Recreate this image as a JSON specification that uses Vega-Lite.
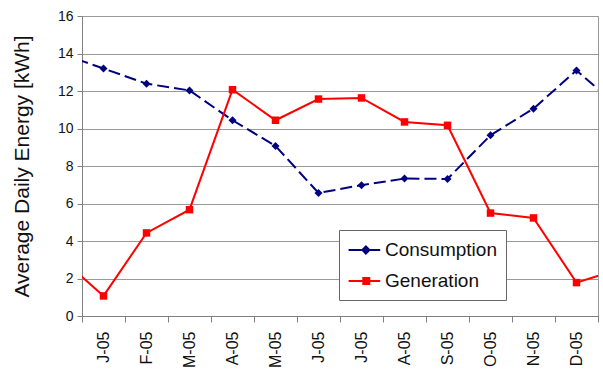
{
  "$schema": "https://vega.github.io/schema/vega-lite/v6.json",
  "width": 516,
  "height": 300,
  "autosize": "none",
  "padding": {"left": 82, "top": 16, "right": 5, "bottom": 57},
  "background": "white",
  "config": {
    "font": "Liberation Sans",
    "view": {"stroke": "#999999", "strokeWidth": 1}
  },
  "data": {
    "values": [
      {"m": 0, "series": "Consumption", "v": 14.0},
      {"m": 1, "series": "Consumption", "v": 13.2},
      {"m": 2, "series": "Consumption", "v": 12.39},
      {"m": 3, "series": "Consumption", "v": 12.03},
      {"m": 4, "series": "Consumption", "v": 10.44},
      {"m": 5, "series": "Consumption", "v": 9.07},
      {"m": 6, "series": "Consumption", "v": 6.56},
      {"m": 7, "series": "Consumption", "v": 6.98},
      {"m": 8, "series": "Consumption", "v": 7.33},
      {"m": 9, "series": "Consumption", "v": 7.31},
      {"m": 10, "series": "Consumption", "v": 9.64},
      {"m": 11, "series": "Consumption", "v": 11.06},
      {"m": 12, "series": "Consumption", "v": 13.1},
      {"m": 13, "series": "Consumption", "v": 11.1},
      {"m": 0, "series": "Generation", "v": 3.1},
      {"m": 1, "series": "Generation", "v": 1.07},
      {"m": 2, "series": "Generation", "v": 4.43},
      {"m": 3, "series": "Generation", "v": 5.67},
      {"m": 4, "series": "Generation", "v": 12.07},
      {"m": 5, "series": "Generation", "v": 10.44},
      {"m": 6, "series": "Generation", "v": 11.57},
      {"m": 7, "series": "Generation", "v": 11.63},
      {"m": 8, "series": "Generation", "v": 10.35},
      {"m": 9, "series": "Generation", "v": 10.17},
      {"m": 10, "series": "Generation", "v": 5.49},
      {"m": 11, "series": "Generation", "v": 5.23},
      {"m": 12, "series": "Generation", "v": 1.78},
      {"m": 13, "series": "Generation", "v": 2.5}
    ]
  },
  "encoding": {
    "x": {
      "field": "m",
      "type": "quantitative",
      "scale": {"domain": [0.5, 12.5], "nice": false, "zero": false},
      "axis": {
        "title": null,
        "grid": false,
        "values": [0.5, 1, 1.5, 2, 2.5, 3, 3.5, 4, 4.5, 5, 5.5, 6, 6.5, 7, 7.5, 8, 8.5, 9, 9.5, 10, 10.5, 11, 11.5, 12, 12.5],
        "labelExpr": "datum.value % 1 == 0 ? ['J-05','F-05','M-05','A-05','M-05','J-05','J-05','A-05','S-05','O-05','N-05','D-05'][datum.value - 1] : ''",
        "labelAngle": -90,
        "labelFontSize": 16,
        "labelColor": "#111111",
        "labelPadding": 9,
        "labelOverlap": false,
        "labelFlush": false,
        "labelBound": false,
        "tickSize": 6,
        "tickColor": "#808080",
        "tickOpacity": {"condition": {"test": "datum.value % 1 != 0", "value": 1}, "value": 0},
        "domainColor": "#808080"
      }
    },
    "y": {
      "field": "v",
      "type": "quantitative",
      "scale": {"domain": [0, 16], "nice": false},
      "axis": {
        "title": "Average Daily Energy [kWh]",
        "titleFontSize": 21,
        "titleFontWeight": "normal",
        "titleColor": "#111111",
        "titlePadding": 25,
        "values": [0, 2, 4, 6, 8, 10, 12, 14, 16],
        "labelFontSize": 14,
        "labelColor": "#111111",
        "labelPadding": 4,
        "tickSize": 5,
        "tickColor": "#808080",
        "domainColor": "#808080",
        "gridColor": "#999999",
        "gridWidth": 1
      }
    }
  },
  "layer": [
    {
      "transform": [{"filter": "datum.series == 'Consumption'"}],
      "mark": {"type": "line", "clip": true, "strokeWidth": 2, "color": "#000080", "strokeDash": [12, 5]}
    },
    {
      "transform": [{"filter": "datum.series == 'Generation'"}],
      "mark": {"type": "line", "clip": true, "strokeWidth": 2, "color": "#ff0000"}
    },
    {
      "transform": [{"filter": "datum.m >= 1 && datum.m <= 12 && datum.series == 'Consumption'"}],
      "mark": {"type": "point", "filled": true, "opacity": 1, "size": 64, "shape": "diamond", "color": "#000080"}
    },
    {
      "transform": [{"filter": "datum.m >= 1 && datum.m <= 12 && datum.series == 'Generation'"}],
      "mark": {"type": "point", "filled": true, "opacity": 1, "size": 56, "shape": "square", "color": "#ff0000"}
    },
    {
      "transform": [{"filter": "datum.m < -100"}],
      "mark": {"type": "point", "filled": true, "opacity": 1, "strokeWidth": 2},
      "encoding": {
        "color": {
          "field": "series",
          "type": "nominal",
          "scale": {"domain": ["Consumption", "Generation"], "range": ["#000080", "#ff0000"]},
          "legend": {
            "title": null,
            "orient": "none",
            "legendX": 257,
            "legendY": 214,
            "padding": 9,
            "rowPadding": 10,
            "labelOffset": 15,
            "labelFontSize": 19,
            "labelColor": "#111111",
            "symbolSize": 400,
            "symbolStrokeWidth": 2,
            "fillColor": "white",
            "strokeColor": "#666666"
          }
        },
        "stroke": {
          "field": "series",
          "type": "nominal",
          "scale": {"domain": ["Consumption", "Generation"], "range": ["#000080", "#ff0000"]}
        },
        "shape": {
          "field": "series",
          "type": "nominal",
          "scale": {
            "domain": ["Consumption", "Generation"],
            "range": ["M-1.04,0H0.26M0.69,-0.35L1.04,0L0.69,0.35L0.34,0ZM1.12,0H2.12", "M-1.04,0H2.12M0.43,-0.3H1.03V0.3H0.43Z"]
          }
        }
      }
    }
  ]
}
